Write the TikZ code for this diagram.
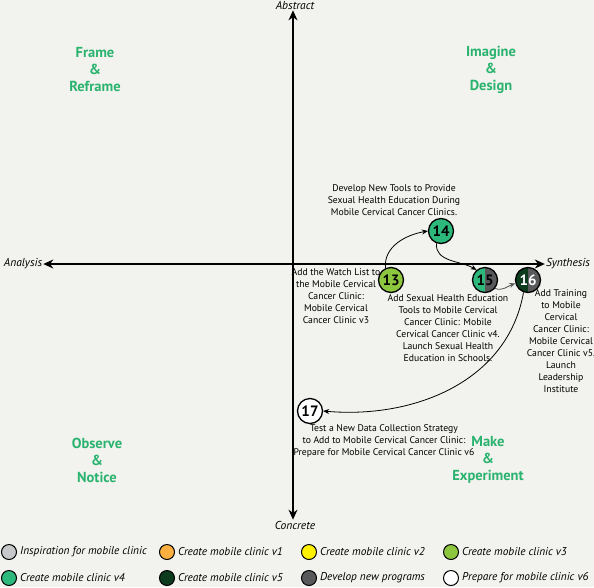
\documentclass[tikz,border=0pt]{standalone}
\usepackage{fontspec}
\setmainfont{PT Sans}
\usetikzlibrary{arrows.meta}
\definecolor{bgcol}{HTML}{F2F2EE}
\definecolor{quadgreen}{HTML}{2AB36E}
\definecolor{insp}{HTML}{C7C8CA}
\definecolor{vone}{HTML}{FBB040}
\definecolor{vtwo}{HTML}{FFF200}
\definecolor{vthree}{HTML}{8DC63F}
\definecolor{vfour}{HTML}{2DB87C}
\definecolor{vfive}{HTML}{0D3B1E}
\definecolor{devgray}{HTML}{58595B}

\begin{document}
\begin{tikzpicture}[x=1pt,y=1pt,
    every node/.style={font=\fontsize{9.7}{12}\selectfont},
    stage/.style={circle,draw,line width=1.3pt,minimum size=25pt,inner sep=0pt,font=\fontsize{15}{15}\selectfont\bfseries},
    split/.style={path picture={\fill[#1] (path picture bounding box.north) rectangle (path picture bounding box.south east);}},
    note/.style={align=center},
    quad/.style={align=center,text=quadgreen,font=\fontsize{14.5}{17}\selectfont\bfseries},
    axislbl/.style={font=\fontsize{11.5}{12}\selectfont\itshape,inner sep=1pt},
    axis/.style={{Stealth[length=10pt,width=9pt]}-{Stealth[length=10pt,width=9pt]},line width=1.3pt},
    key/.style={circle,draw,line width=1pt,minimum size=15pt,inner sep=0pt},
    keytext/.style={font=\fontsize{11.3}{12}\selectfont\itshape,inner sep=0pt},
    link/.style={-{Stealth[length=6pt,width=5pt]},line width=0.8pt}]
  \path[use as bounding box,fill=bgcol] (0,0) rectangle (594,-587);

  % axes
  \coordinate (o) at (293,-264);
  \node[axislbl] (abs) at (295,-5) {Abstract};
  \node[axislbl] (con) at (295,-525) {Concrete};
  \node[axislbl] (ana) at (23,-264) {Analysis};
  \node[axislbl] (syn) at (568,-264) {Synthesis};
  \draw[axis] (o |- con.north) -- (o |- abs.south);
  \draw[axis] (ana.east) -- (syn.west);

  % quadrants
  \node[quad] (q1) at (95,-70) {Frame\\\&\\Reframe};
  \node[quad] (q2) at (491,-70) {Imagine\\\&\\Design};
  \node[quad] (q3) at (97,-460) {Observe\\\&\\Notice};
  \node[quad] (q4) at (488,-460) {Make\\\&\\Experiment};

  % stages
  \node[stage,fill=vthree] (n13) at (391,-280) {13};
  \node[stage,fill=vfour] (n14) at (441,-231) {14};
  \node[stage,fill=vfour,split=devgray] (n15) at (485,-280) {15};
  \node[stage,fill=vfive,split=devgray,text=white] (n16) at (528,-280) {16};
  \node[stage,fill=white] (n17) at (310,-411) {17};

  \node[note] (t13) at (336,-296) {Add the Watch List to\\the Mobile Cervical\\Cancer Clinic:\\Mobile Cervical\\Cancer Clinic v3};
  \node[note] (t14) at (394,-200) {Develop New Tools to Provide\\Sexual Health Education During\\Mobile Cervical Cancer Clinics.};
  \node[note] (t15) at (448,-328) {Add Sexual Health Education\\Tools to Mobile Cervical\\Cancer Clinic: Mobile\\Cervical Cancer Clinic v4.\\Launch Sexual Health\\Education in Schools.};
  \node[note] (t16) at (561,-341) {Add Training\\to Mobile\\Cervical\\Cancer Clinic:\\Mobile Cervical\\Cancer Clinic v5.\\Launch\\Leadership\\Institute};
  \node[note] (t17) at (384,-441) {Test a New Data Collection Strategy\\to Add to Mobile Cervical Cancer Clinic:\\Prepare for Mobile Cervical Cancer Clinic v6};

  \draw[link] (n13.115) to[out=95,in=190] (n14.west);
  \draw[link] (n14.250) to[out=-95,in=150] (n15.130);
  \draw[link,devgray] (n15.-40) to[out=-20,in=200] (n16.195);
  \draw[link] (n16.-110) to[out=-100,in=-5] (n17.east);

  % legend
  \node[key,fill=insp,label={[keytext,label distance=3pt]right:Inspiration for mobile clinic}] (k1) at (9,-552) {};
  \node[key,fill=vone,label={[keytext,label distance=3pt]right:Create mobile clinic v1}] (k2) at (167,-552) {};
  \node[key,fill=vtwo,label={[keytext,label distance=3pt]right:Create mobile clinic v2}] (k3) at (309,-552) {};
  \node[key,fill=vthree,label={[keytext,label distance=3pt]right:Create mobile clinic v3}] (k4) at (451,-552) {};
  \node[key,fill=vfour,label={[keytext,label distance=3pt]right:Create mobile clinic v4}] (k5) at (9,-578) {};
  \node[key,fill=vfive,label={[keytext,label distance=3pt]right:Create mobile clinic v5}] (k6) at (167,-578) {};
  \node[key,fill=devgray,label={[keytext,label distance=3pt]right:Develop new programs}] (k7) at (309,-578) {};
  \node[key,fill=white,label={[keytext,label distance=3pt]right:Prepare for mobile clinic v6}] (k8) at (451,-578) {};
\end{tikzpicture}
\end{document}
